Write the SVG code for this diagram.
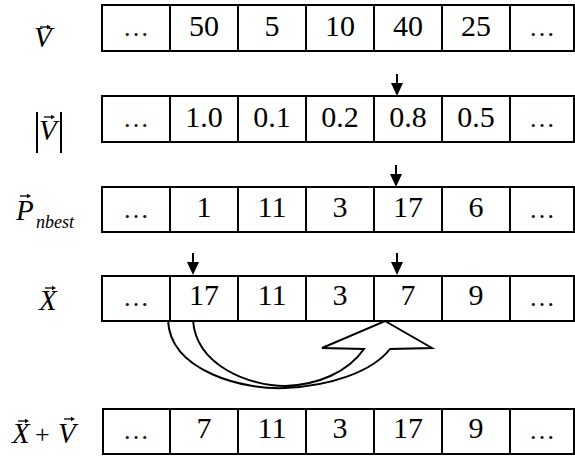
<svg xmlns="http://www.w3.org/2000/svg" width="575" height="456" viewBox="0 0 575 456">
<style>
.cell{fill:#fff;stroke:#000;stroke-width:2}
.num{font-family:'Liberation Serif','Times New Roman',serif;font-size:30px;text-anchor:middle;fill:#000}
.dots{font-family:'Liberation Serif','Times New Roman',serif;font-size:26px;text-anchor:middle;fill:#000}
.lbl{font-family:'Liberation Serif','Times New Roman',serif;font-style:italic;font-size:29px;fill:#000}
.sub{font-family:'Liberation Serif','Times New Roman',serif;font-style:italic;font-size:18px;fill:#000}
.vec{stroke:#000;stroke-width:1.3;fill:none}
.con{stroke:#000;stroke-width:2;fill:#fff;stroke-linejoin:miter}
</style>
<defs>
<g id="darrow"><line x1="0" y1="0" x2="0" y2="10" stroke="#000" stroke-width="2"/><polygon points="-6,9 6,9 0,22" fill="#000"/></g>
<g id="vhead"><polygon points="0,0 -4,-2.2 -4,2.2" fill="#000"/></g>
</defs>

<g id="label-V">
<text class="lbl" x="34" y="47">V</text>
<line class="vec" x1="40" y1="27" x2="49" y2="27"/><use href="#vhead" x="51" y="27"/>
</g>
<g id="label-absV">
<line x1="37" y1="112" x2="37" y2="153" stroke="#000" stroke-width="2"/>
<line x1="61" y1="112" x2="61" y2="153" stroke="#000" stroke-width="2"/>
<text class="lbl" x="39" y="140">V</text>
<line class="vec" x1="44" y1="117" x2="53" y2="117"/><use href="#vhead" x="55" y="117"/>
</g>
<g id="label-Pnbest">
<text class="lbl" x="16" y="220">P</text>
<line class="vec" x1="20" y1="196" x2="29" y2="196"/><use href="#vhead" x="31" y="196"/>
<text class="sub" x="36" y="228">nbest</text>
</g>
<g id="label-X">
<text class="lbl" x="39" y="310">X</text>
<line class="vec" x1="45" y1="288" x2="54" y2="288"/><use href="#vhead" x="56" y="288"/>
</g>
<g id="label-XplusV">
<text class="lbl" x="12" y="443">X</text>
<line class="vec" x1="18" y1="421" x2="27" y2="421"/><use href="#vhead" x="29" y="421"/>
<text class="lbl" x="35" y="443" style="font-style:normal;font-size:26px">+</text>
<text class="lbl" x="58" y="443">V</text>
<line class="vec" x1="64" y1="419" x2="73" y2="419"/><use href="#vhead" x="75" y="419"/>
</g>

<g id="connectors">
<path class="con" d="M168,320 C170,372 245,390 285,388 C330,386 372,372 390,349 L432,348 L385,321 L322,348 L364,349 C348,372 318,385 285,386 C250,386 196,366 193,320"/>
<use href="#darrow" x="397" y="74"/>
<use href="#darrow" x="396" y="165"/>
<use href="#darrow" x="193" y="253"/>
<use href="#darrow" x="397" y="253"/>
</g>

<g id="row-V">
<rect class="cell" x="102" y="5" width="68" height="46"/><rect class="cell" x="170" y="5" width="68" height="46"/><rect class="cell" x="238" y="5" width="68" height="46"/><rect class="cell" x="306" y="5" width="68" height="46"/><rect class="cell" x="374" y="5" width="68" height="46"/><rect class="cell" x="442" y="5" width="68" height="46"/><rect class="cell" x="510" y="5" width="64" height="46"/>
<text class="num" y="36"><tspan x="204">50</tspan><tspan x="272">5</tspan><tspan x="340">10</tspan><tspan x="408">40</tspan><tspan x="476">25</tspan></text>
<text class="dots" y="36"><tspan x="136">…</tspan><tspan x="542">…</tspan></text>
</g>
<g id="row-absV">
<rect class="cell" x="102" y="96" width="68" height="46"/><rect class="cell" x="170" y="96" width="68" height="46"/><rect class="cell" x="238" y="96" width="68" height="46"/><rect class="cell" x="306" y="96" width="68" height="46"/><rect class="cell" x="374" y="96" width="68" height="46"/><rect class="cell" x="442" y="96" width="68" height="46"/><rect class="cell" x="510" y="96" width="64" height="46"/>
<text class="num" y="127"><tspan x="204">1.0</tspan><tspan x="272">0.1</tspan><tspan x="340">0.2</tspan><tspan x="408">0.8</tspan><tspan x="476">0.5</tspan></text>
<text class="dots" y="127"><tspan x="136">…</tspan><tspan x="542">…</tspan></text>
</g>
<g id="row-Pnbest">
<rect class="cell" x="102" y="187" width="68" height="45"/><rect class="cell" x="170" y="187" width="68" height="45"/><rect class="cell" x="238" y="187" width="68" height="45"/><rect class="cell" x="306" y="187" width="68" height="45"/><rect class="cell" x="374" y="187" width="68" height="45"/><rect class="cell" x="442" y="187" width="68" height="45"/><rect class="cell" x="510" y="187" width="64" height="45"/>
<text class="num" y="217"><tspan x="204">1</tspan><tspan x="272">11</tspan><tspan x="340">3</tspan><tspan x="408">17</tspan><tspan x="476">6</tspan></text>
<text class="dots" y="218"><tspan x="136">…</tspan><tspan x="542">…</tspan></text>
</g>
<g id="row-X">
<rect class="cell" x="102" y="276" width="68" height="45"/><rect class="cell" x="170" y="276" width="68" height="45"/><rect class="cell" x="238" y="276" width="68" height="45"/><rect class="cell" x="306" y="276" width="68" height="45"/><rect class="cell" x="374" y="276" width="68" height="45"/><rect class="cell" x="442" y="276" width="68" height="45"/><rect class="cell" x="510" y="276" width="64" height="45"/>
<text class="num" y="305"><tspan x="204">17</tspan><tspan x="272">11</tspan><tspan x="340">3</tspan><tspan x="408">7</tspan><tspan x="476">9</tspan></text>
<text class="dots" y="306"><tspan x="136">…</tspan><tspan x="542">…</tspan></text>
</g>
<g id="row-XplusV">
<rect class="cell" x="103" y="409" width="67" height="45"/><rect class="cell" x="170" y="409" width="68" height="45"/><rect class="cell" x="238" y="409" width="68" height="45"/><rect class="cell" x="306" y="409" width="68" height="45"/><rect class="cell" x="374" y="409" width="68" height="45"/><rect class="cell" x="442" y="409" width="68" height="45"/><rect class="cell" x="510" y="409" width="64" height="45"/>
<text class="num" y="438"><tspan x="204">7</tspan><tspan x="272">11</tspan><tspan x="340">3</tspan><tspan x="408">17</tspan><tspan x="476">9</tspan></text>
<text class="dots" y="439"><tspan x="136">…</tspan><tspan x="542">…</tspan></text>
</g>
</svg>
